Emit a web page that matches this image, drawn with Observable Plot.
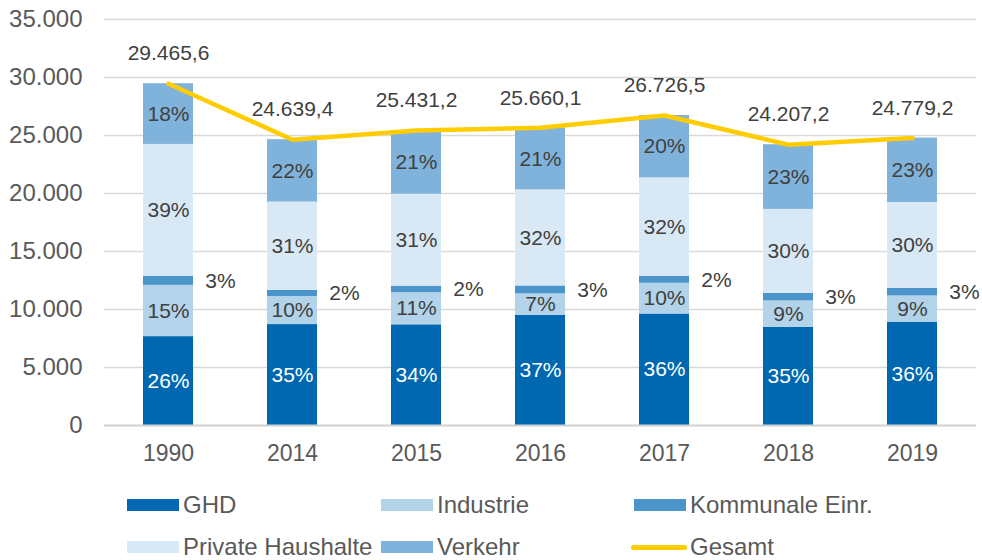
<!DOCTYPE html>
<html>
<head>
<meta charset="utf-8">
<script src="https://cdn.jsdelivr.net/npm/d3@7"></script>
<script src="https://cdn.jsdelivr.net/npm/@observablehq/plot@0.6"></script>
<style>
  html, body { margin: 0; padding: 0; background: #fff; }
  body { width: 982px; height: 560px; position: relative; overflow: hidden; font-family: "Liberation Sans", Arial, sans-serif; }
  #chart { position: absolute; left: 0; top: 0; }
  .leg { position: absolute; display: flex; align-items: center; font-size: 24px; color: #595959; white-space: nowrap; }
  .sw { width: 52px; height: 12px; margin-right: 4px; }
  .ln { width: 56px; height: 5px; border-radius: 3px; margin-right: 3px; }
</style>
</head>
<body>
<div id="chart"></div>
<div id="legend"></div>
<script>
const years = ["1990", "2014", "2015", "2016", "2017", "2018", "2019"];
const seriesNames = ["GHD", "Industrie", "Kommunale Einr.", "Private Haushalte", "Verkehr"];
const ghd = [7660, 8700, 8680, 9500, 9610, 8460, 8910];
const industrie = [4420, 2420, 2770, 1850, 2650, 2280, 2260];
const kommunale = [780, 520, 560, 680, 590, 640, 650];
const privat = [11370, 7620, 7930, 8280, 8500, 7250, 7400];
const verkehr = [5235.6, 5379.4, 5491.2, 5350.1, 5376.5, 5577.2, 5559.2];
const gesamt = [29465.6, 24639.4, 25431.2, 25660.1, 26726.5, 24207.2, 24779.2];
const pctGHD = ["26%", "35%", "34%", "37%", "36%", "35%", "36%"];
const pctIndustrie = ["15%", "10%", "11%", "7%", "10%", "9%", "9%"];
const pctKommunale = ["3%", "2%", "2%", "3%", "2%", "3%", "3%"];
const pctPrivat = ["39%", "31%", "31%", "32%", "32%", "30%", "30%"];
const pctVerkehr = ["18%", "22%", "21%", "21%", "20%", "23%", "23%"];
const yTicks = [0, 5000, 10000, 15000, 20000, 25000, 30000, 35000];
const colors = ["#0068b1", "#b2d3e9", "#4b95cb", "#d8e8f4", "#80b3db"];
const lineColor = "#ffcc00";

const valueArrays = [ghd, industrie, kommunale, privat, verkehr];
const pctArrays = [pctGHD, pctIndustrie, pctKommunale, pctPrivat, pctVerkehr];
const rows = [];
seriesNames.forEach((s, si) => {
  years.forEach((y, yi) => {
    rows.push({year: y, series: s, value: valueArrays[si][yi], pct: pctArrays[si][yi]});
  });
});
const totals = years.map((y, i) => ({year: y, total: gesamt[i]}));

const de = d3.formatLocale({decimal: ",", thousands: ".", grouping: [3], currency: ["", "€"]});
const fmtTotal = de.format(",.1f");
const fmtTick = de.format(",.0f");
const KOM = "Kommunale Einr.";

const chart = Plot.plot({
  width: 982,
  height: 480,
  marginLeft: 104,
  marginRight: 6,
  marginTop: 19,
  marginBottom: 55,
  style: {fontFamily: "Liberation Sans, Arial, sans-serif", background: "#fff"},
  x: {domain: years, paddingInner: 0.6, paddingOuter: 0.3, label: null, axis: null},
  y: {domain: [0, 35000], label: null, axis: null},
  color: {domain: seriesNames, range: colors},
  marks: [
    Plot.ruleY(yTicks.filter(d => d > 0), {stroke: "#d9d9d9", strokeWidth: 1.5}),
    Plot.barY(rows, {x: "year", y: "value", fill: "series", order: seriesNames}),
    Plot.ruleY([0], {stroke: "#d0d0d0", strokeWidth: 2}),
    Plot.axisY({ticks: yTicks, tickSize: 0, tickPadding: 22, tickFormat: fmtTick, fontSize: 24, fill: "#595959", label: null}),
    Plot.axisX({tickSize: 0, tickPadding: 19, fontSize: 23, fill: "#595959", label: null}),
    Plot.text(rows, Plot.stackY({
      x: "year", y: "value", z: "series", order: seriesNames,
      text: d => d.series === KOM ? "" : d.pct,
      fill: d => d.series === "GHD" ? "#ffffff" : "#404040",
      fontSize: 21
    })),
    Plot.text(rows, Plot.stackY({
      x: "year", y: "value", z: "series", order: seriesNames,
      text: d => d.series === KOM ? d.pct : "",
      dx: 52, fill: "#404040", fontSize: 21
    })),
    Plot.line(totals, {x: "year", y: "total", stroke: lineColor, strokeWidth: 4.5, strokeLinecap: "round", strokeLinejoin: "miter"}),
    Plot.text(totals, {x: "year", y: "total", text: d => fmtTotal(d.total), dy: -30, fill: "#404040", fontSize: 21})
  ]
});
document.getElementById("chart").appendChild(chart);

// Legend
const legendItems = [
  {name: "GHD", color: colors[0], type: "sw", left: 127, top: 505},
  {name: "Industrie", color: colors[1], type: "sw", left: 381, top: 505},
  {name: "Kommunale Einr.", color: colors[2], type: "sw", left: 634, top: 505},
  {name: "Private Haushalte", color: colors[3], type: "sw", left: 127, top: 547},
  {name: "Verkehr", color: colors[4], type: "sw", left: 381, top: 547},
  {name: "Gesamt", color: lineColor, type: "ln", left: 631, top: 547}
];
const leg = document.getElementById("legend");
legendItems.forEach(it => {
  const el = document.createElement("div");
  el.className = "leg";
  el.style.left = it.left + "px";
  el.style.top = (it.top - 14) + "px";
  el.style.height = "28px";
  const sw = document.createElement("span");
  sw.className = it.type;
  sw.style.background = it.color;
  el.appendChild(sw);
  const t = document.createElement("span");
  t.textContent = it.name;
  el.appendChild(t);
  leg.appendChild(el);
});
</script>
</body>
</html>
